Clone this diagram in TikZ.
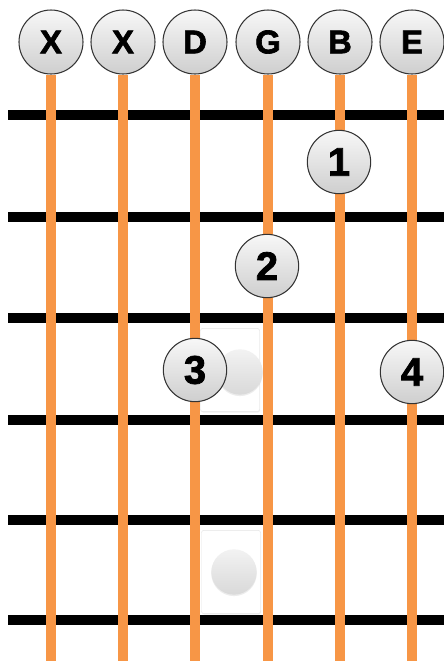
\documentclass[tikz,border=0pt]{standalone}
\usepackage{fontspec}
\setsansfont{Liberation Sans}[BoldFeatures={FakeBold=2}]
\usetikzlibrary{positioning, backgrounds, shadows}

\definecolor{stringorange}{HTML}{F79646}

\begin{document}
\begin{tikzpicture}[
  x=0.03cm, y=-0.03cm,
  % Estilos de nodos
  openbox/.style={circle, draw=black!80, line width=0.9pt, minimum size=1.92cm, inner sep=0pt,
    top color=gray!6, bottom color=gray!38, font=\sffamily\bfseries\fontsize{28}{28}\selectfont},
  fingerbox/.style={circle, draw=black!80, line width=0.9pt, minimum size=1.9cm, inner sep=0pt,
    top color=gray!6, bottom color=gray!38, font=\sffamily\bfseries\fontsize{34}{34}\selectfont},
  slotbox/.style={draw=gray!22, fill=white, rounded corners=2pt, minimum width=1.77cm, minimum height=2.5cm,
    drop shadow={opacity=0.12, shadow xshift=0.5pt, shadow yshift=-0.8pt}},
  ghostdot/.style={circle, minimum size=1.36cm, inner sep=0pt, top color=gray!10, bottom color=gray!30,
    drop shadow={opacity=0.15, shadow xshift=0pt, shadow yshift=-1.2pt}},
  % Estilos de lineas
  fret/.style={draw, black, line width=0.3cm},
  guitarstring/.style={draw, stringorange, line width=0.29cm}
]
  \useasboundingbox (0,0) rectangle (444,661);

  % ==========================================
  % OPEN STRING LABELS (y = 42)
  % ==========================================
  \node[openbox] (sx1) at (51,42) {X};
  \node[openbox] (sx2) at (123,42) {X};
  \node[openbox] (sd) at (195,42) {D};
  \node[openbox] (sg) at (268,42) {G};
  \node[openbox] (sb) at (340,42) {B};
  \node[openbox] (se) at (412,42) {E};

  % Free ends of the strings
  \coordinate (ex1) at (51,661);
  \coordinate (ex2) at (123,661);
  \coordinate (ed) at (195,661);
  \coordinate (eg) at (268,661);
  \coordinate (eb) at (340,661);
  \coordinate (ee) at (412,661);

  % ==========================================
  % FRETS AND STRINGS
  % ==========================================
  \begin{scope}[on background layer]
    \draw[fret] (8,115) -- (444,115);
    \draw[fret] (8,217) -- (444,217);
    \draw[fret] (8,318) -- (444,318);
    \draw[fret] (8,420) -- (444,420);
    \draw[fret] (8,520) -- (444,520);
    \draw[fret] (8,620) -- (444,620);

    \draw[guitarstring] (sx1.south) -- (ex1);
    \draw[guitarstring] (sx2.south) -- (ex2);
    \draw[guitarstring] (sd.south) -- (ed);
    \draw[guitarstring] (sg.south) -- (eg);
    \draw[guitarstring] (sb.south) -- (eb);
    \draw[guitarstring] (se.south) -- (ee);
  \end{scope}

  % ==========================================
  % EMPTY SLOTS
  % ==========================================
  \node[slotbox] (slot1) at (230,370) {};
  \node[ghostdot] (dot1) at (240,372) {};
  \node[slotbox] (slot2) at (231,572) {};
  \node[ghostdot] (dot2) at (234,572) {};

  % ==========================================
  % FINGERS
  % ==========================================
  \node[fingerbox] (f1) at (339,162) {1};
  \node[fingerbox] (f2) at (267,266) {2};
  \node[fingerbox] (f3) at (195,370) {3};
  \node[fingerbox] (f4) at (412,372) {4};

\end{tikzpicture}
\end{document}
